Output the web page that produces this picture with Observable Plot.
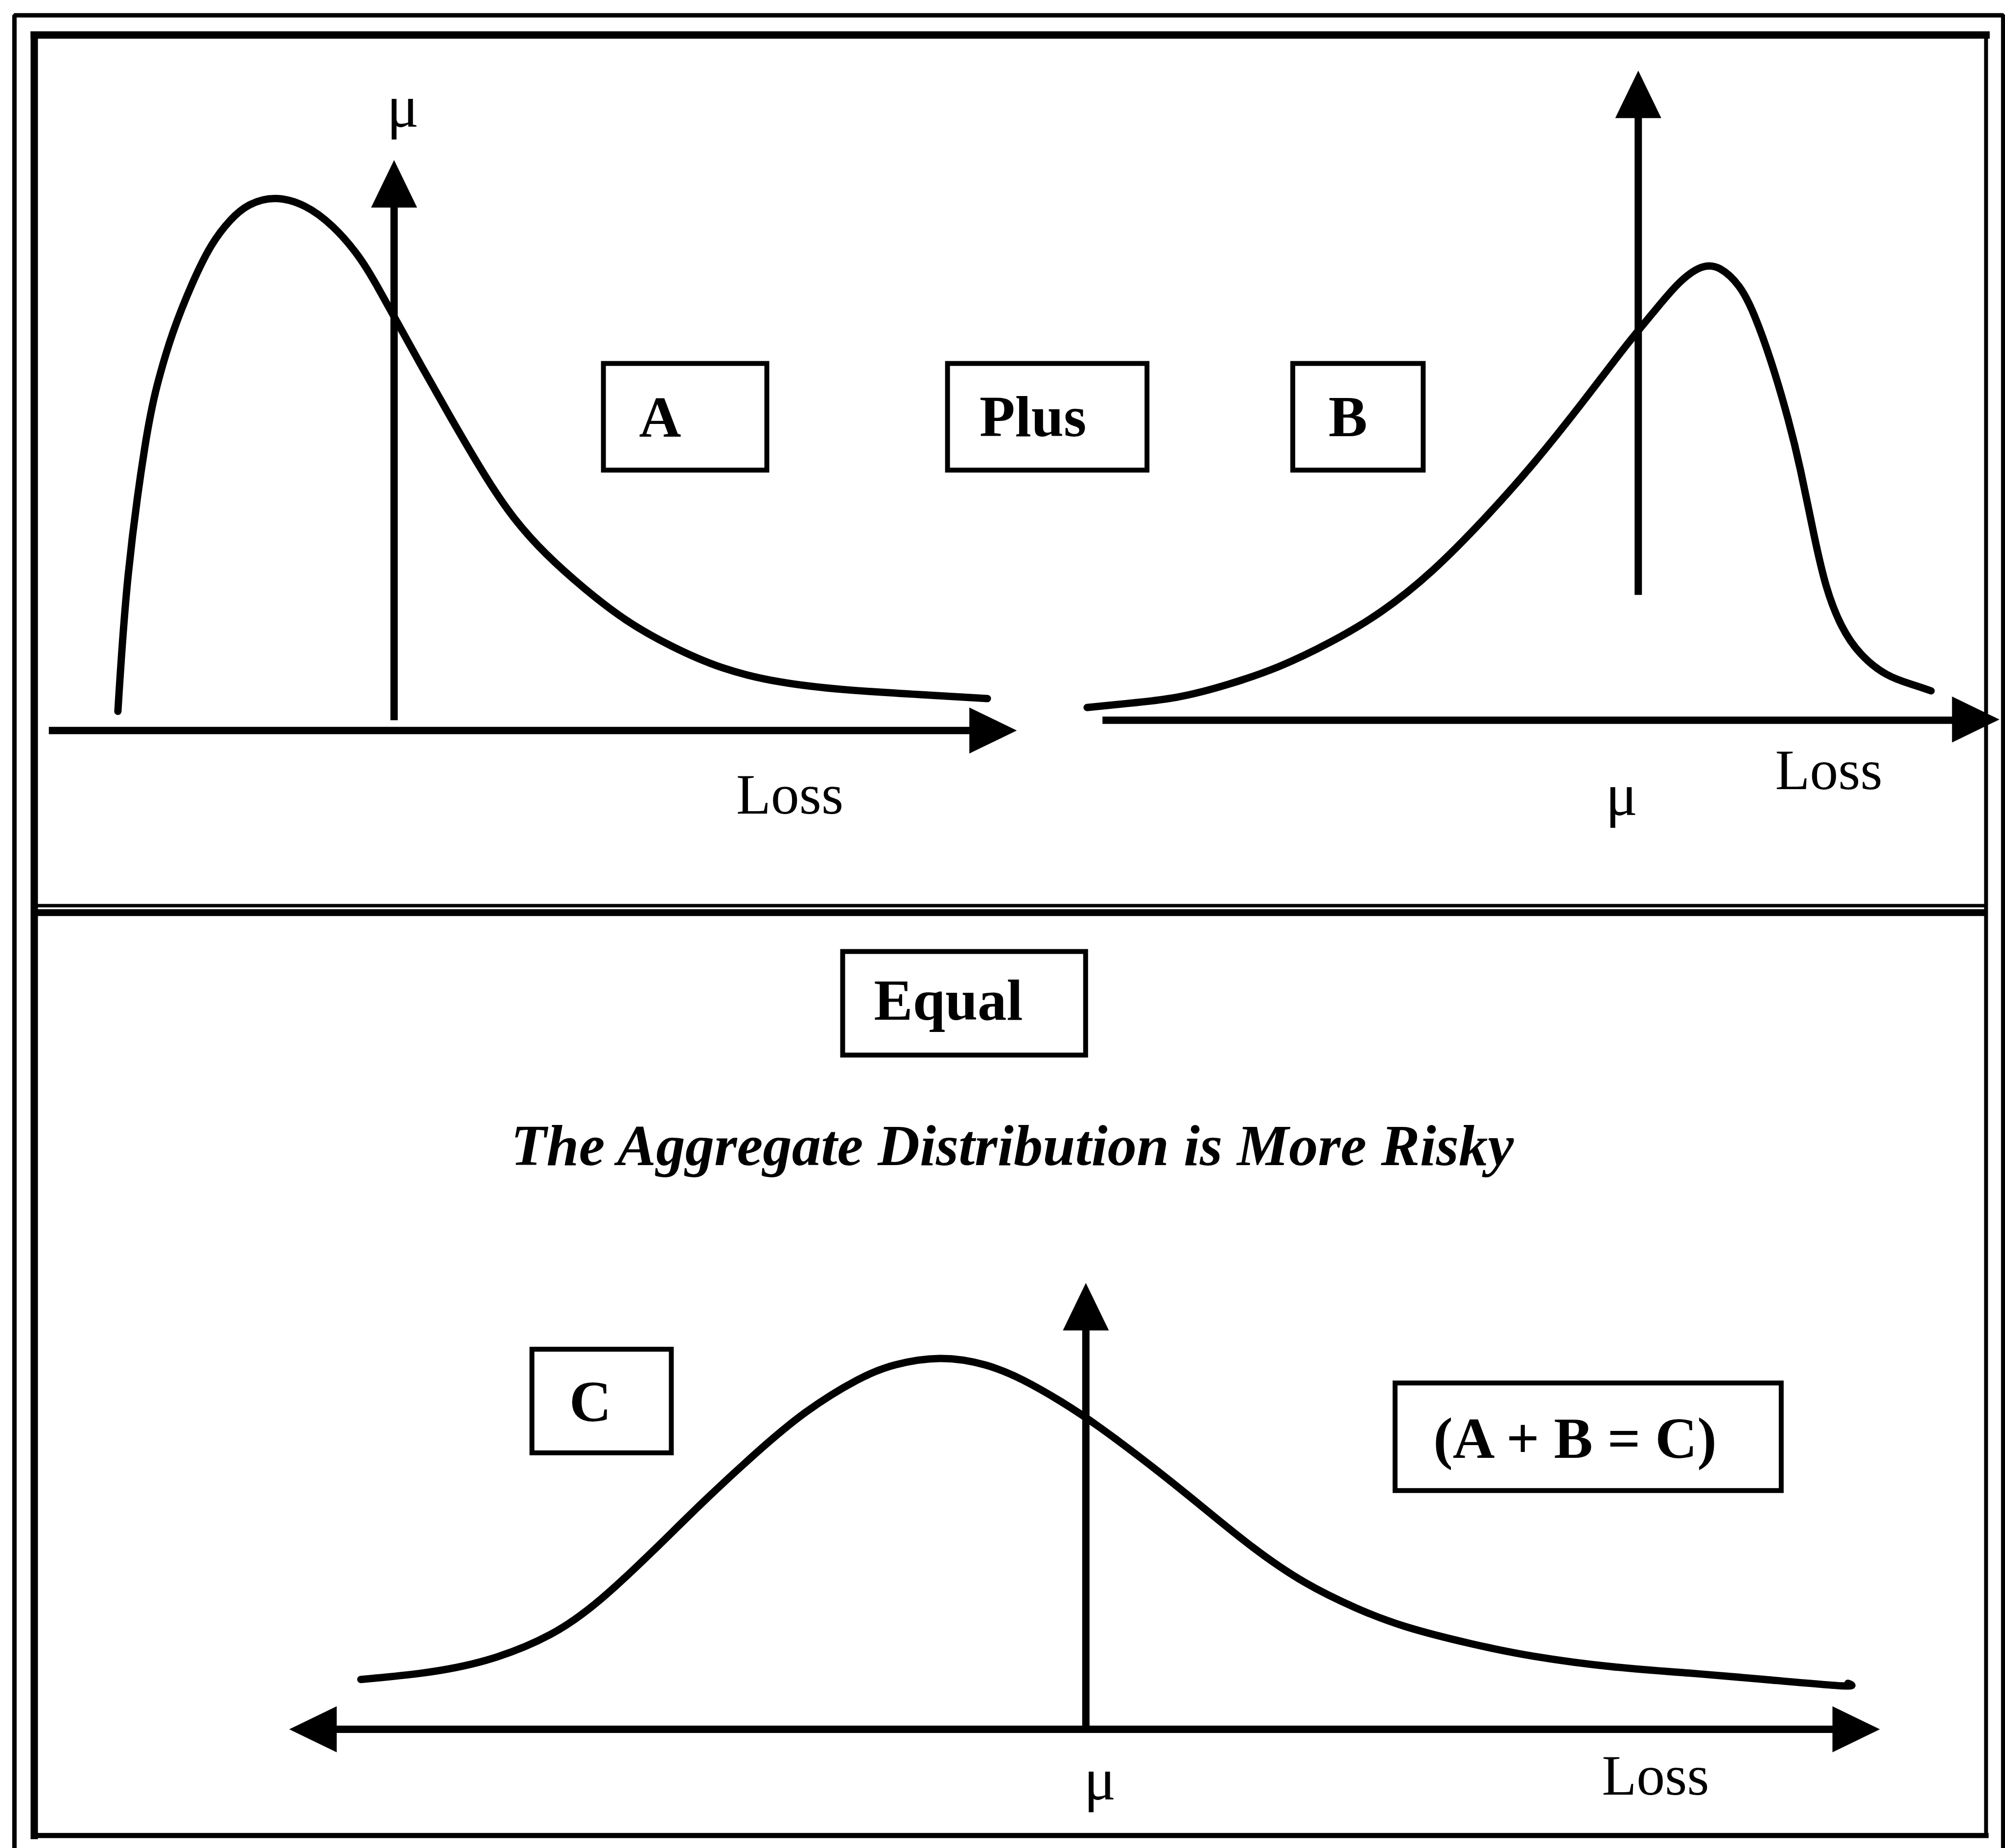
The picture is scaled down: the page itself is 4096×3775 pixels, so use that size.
<!DOCTYPE html>
<html>
<head>
<meta charset="utf-8">
<script src="https://cdn.jsdelivr.net/npm/d3@7"></script>
<script src="https://cdn.jsdelivr.net/npm/@observablehq/plot@0.6"></script>
<style>
  html, body { margin: 0; padding: 0; background: #fff; }
  #chart svg { display: block; }
</style>
</head>
<body>
<div id="chart"></div>
<script>
// ---- Data (diagram units = reference picture units, 1568 x 1445) ----
// Curve A: right-skewed distribution (top left)
const curveA = [[92,556],[100,450],[113,350],[123,300],[135,260],[150,222],[165,192],[180,172],[195,160],[215,155],[238,161],[260,177],[280,200],[295,224],[310,251],[330,287],[355,331],[380,373],[402,405],[427,433],[457,460],[490,485],[525,505],[565,522],[610,533],[660,539],[720,543],[772,546]];
// Curve B: left-skewed distribution (top right)
const curveB = [[850,553],[880,550],[920,545],[960,535],[1000,521],[1040,502],[1080,478],[1120,446],[1160,406],[1200,361],[1240,311],[1270,272],[1292,245],[1312,222],[1330,209],[1345,210],[1360,224],[1372,247],[1385,283],[1398,327],[1408,368],[1418,416],[1428,458],[1440,489],[1455,511],[1475,527],[1495,535],[1510,540]];
// Curve C: aggregate distribution (bottom)
const curveC = [[282,1313],[330,1308],[380,1298],[430,1278],[470,1250],[510,1213],[550,1174],[590,1137],[630,1104],[670,1079],[700,1067],[735,1062],[770,1067],[800,1079],[830,1096],[860,1116],[900,1146],[940,1178],[980,1210],[1020,1237],[1060,1257],[1100,1272],[1150,1285],[1200,1295],[1260,1303],[1320,1308],[1380,1313],[1440,1318],[1445,1316]];

// Axis shafts [x1, y1, x2, y2]
const axisShafts = [
  [38, 571, 770, 571],     // A loss axis
  [308, 563, 308, 150],    // A mean
  [862, 563, 1540, 563],   // B loss axis
  [1281, 465, 1281, 80],   // B mean
  [250, 1352, 1445, 1352], // C loss axis
  [849, 1352, 849, 1030]   // C mean
];
// Arrow tips
const tipsUp = [[308, 125], [1281, 55], [849, 1003]];
const tipsRight = [[795, 571], [1563.5, 562.4], [1470, 1352]];
const tipsLeft = [[226, 1352]];

// Boxes [x1, y1, x2, y2]
const boxes = [
  [471.9, 284.2, 599.7, 367.6],
  [741, 284.2, 897, 367.6],
  [1011, 284.2, 1113, 367.6],
  [659, 744, 849, 825],
  [416, 1055, 525, 1136],
  [1091, 1081.4, 1393, 1165.5]
];
const boxLabels = ["A", "Plus", "B", "Equal", "C", "(A + B = C)"];
const boxLabelX = [516, 807.6, 1054, 741.5, 461.5, 1231.5];
const boxLabelY = [341.4, 340.7, 341, 797, 1111, 1139.6];

const axisLabels = ["Loss", "Loss", "Loss"];
const axisLabelX = [617.5, 1430, 1294.5];
const axisLabelY = [636, 617, 1403];

const muLabels = ["μ", "μ", "μ"];
const muX = [314.8, 1268, 860];
const muY = [99, 637, 1407];

const title = "The Aggregate Distribution is More Risky";
const titlePos = [791.5, 910.9];

// Frames
const outerFrame = [[11.1, 1460], [11.1, 11.8], [1566.4, 11.8], [1566.4, 1460]];
const innerFrame = {left: 26.6, top: 27.2, right: 1553, bottom: 1435};
const dividers = [708.0, 713.4];

// ---- Drawing ----
const W = 4096, H = 3775;
const headL = 97, headW = 47;
function head(dir) {
  return {
    draw(ctx) {
      if (dir === "up") { ctx.moveTo(0, 0); ctx.lineTo(headW, headL); ctx.lineTo(-headW, headL); }
      if (dir === "right") { ctx.moveTo(0, 0); ctx.lineTo(-headL, headW); ctx.lineTo(-headL, -headW); }
      if (dir === "left") { ctx.moveTo(0, 0); ctx.lineTo(headL, headW); ctx.lineTo(headL, -headW); }
      ctx.closePath();
    }
  };
}

const font = "'Liberation Serif', 'Times New Roman', serif";
const F = innerFrame;
const curveStyle = {x: d => d[0], y: d => d[1], stroke: "#000", strokeWidth: 15, curve: "natural", strokeLinecap: "round", strokeLinejoin: "round"};

const chart = Plot.plot({
  width: W,
  height: H,
  margin: 0,
  x: {domain: [0, 1568], range: [0, W], axis: null},
  y: {domain: [0, 1445], range: [0, H], axis: null},
  style: {background: "#fff", fontFamily: font},
  marks: [
    // outer frame
    Plot.line(outerFrame, {x: d => d[0], y: d => d[1], stroke: "#000", strokeWidth: 9, strokeLinejoin: "miter", curve: "linear"}),
    // inner frame sides
    Plot.link([[F.left, F.bottom, F.left, F.top], [F.left, F.top, F.right, F.top]], {x1: d => d[0], y1: d => d[1], x2: d => d[2], y2: d => d[3], stroke: "#000", strokeWidth: 15, strokeLinecap: "square"}),
    Plot.link([[F.right, F.top, F.right, F.bottom]], {x1: d => d[0], y1: d => d[1], x2: d => d[2], y2: d => d[3], stroke: "#000", strokeWidth: 8, strokeLinecap: "square"}),
    Plot.link([[F.left, F.bottom, F.right, F.bottom]], {x1: d => d[0], y1: d => d[1], x2: d => d[2], y2: d => d[3], stroke: "#000", strokeWidth: 10.5, strokeLinecap: "square"}),
    // divider (double line)
    Plot.link([dividers[0]], {x1: F.left, x2: F.right, y1: d => d, y2: d => d, stroke: "#000", strokeWidth: 7}),
    Plot.link([dividers[1]], {x1: F.left, x2: F.right, y1: d => d, y2: d => d, stroke: "#000", strokeWidth: 14}),
    // boxes
    Plot.rect(boxes, {x1: d => d[0], y1: d => d[1], x2: d => d[2], y2: d => d[3], fill: "none", stroke: "#000", strokeWidth: 10}),
    // curves
    Plot.line(curveA, curveStyle),
    Plot.line(curveB, curveStyle),
    Plot.line(curveC, curveStyle),
    // axis shafts
    Plot.link(axisShafts, {x1: d => d[0], y1: d => d[1], x2: d => d[2], y2: d => d[3], stroke: "#000", strokeWidth: 15}),
    // arrow heads
    Plot.dot(tipsUp, {x: d => d[0], y: d => d[1], symbol: head("up"), fill: "#000", stroke: "none"}),
    Plot.dot(tipsRight, {x: d => d[0], y: d => d[1], symbol: head("right"), fill: "#000", stroke: "none"}),
    Plot.dot(tipsLeft, {x: d => d[0], y: d => d[1], symbol: head("left"), fill: "#000", stroke: "none"}),
    // box labels
    Plot.text(boxLabels, {x: (d, i) => boxLabelX[i], y: (d, i) => boxLabelY[i], text: d => d, fontSize: 119, fontWeight: "bold", fontFamily: font, fill: "#000", textAnchor: "middle", lineAnchor: "bottom"}),
    // axis labels
    Plot.text(axisLabels, {x: (d, i) => axisLabelX[i], y: (d, i) => axisLabelY[i], text: d => d, fontSize: 116, fontFamily: font, fill: "#000", textAnchor: "middle", lineAnchor: "bottom"}),
    Plot.text(muLabels, {x: (d, i) => muX[i], y: (d, i) => muY[i], text: d => d, fontSize: 122, fontFamily: font, fill: "#000", textAnchor: "middle", lineAnchor: "bottom"}),
    // title
    Plot.text([title], {x: titlePos[0], y: titlePos[1], text: d => d, fontSize: 119, fontWeight: "bold", fontStyle: "italic", fontFamily: font, fill: "#000", textAnchor: "middle", lineAnchor: "bottom"})
  ]
});
document.getElementById("chart").appendChild(chart);
</script>
</body>
</html>
